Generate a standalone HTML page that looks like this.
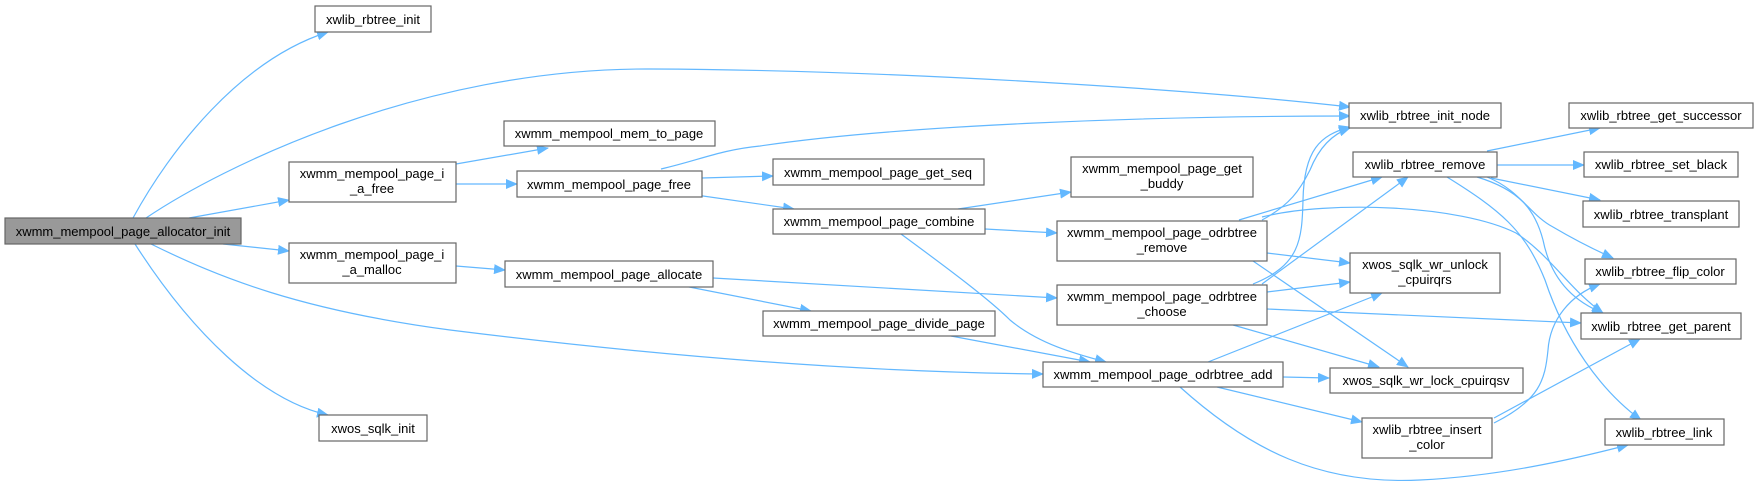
<!DOCTYPE html>
<html><head><meta charset="utf-8"><style>
html,body{margin:0;padding:0;background:#fff;}
svg{display:block}
text{font-family:"Liberation Sans",Arial,sans-serif;font-size:13px;fill:#000;text-anchor:middle}
.b{fill:#fff;stroke:#666;stroke-width:1.2}
.e{fill:none;stroke:#63b8ff;stroke-width:1.2}
</style></head><body>
<svg width="1759" height="487" viewBox="0 0 1759 487" xmlns="http://www.w3.org/2000/svg">
<defs><marker id="a" markerWidth="12" markerHeight="10" refX="11" refY="5" orient="auto" markerUnits="userSpaceOnUse"><path d="M0,0 L12,5 L0,10 z" fill="#63b8ff"/></marker></defs>
<g class="e" marker-end="url(#a)">
<path d="M133,218 C170,150 240,60 328,32"/>
<path d="M146,218 C220,168 420,68 650,69 C900,70 1200,90 1350,107"/>
<path d="M189,218 L289,200"/>
<path d="M223,244 L289,251"/>
<path d="M151,244 C220,278 300,310 450,330 C650,355 850,372 1043,374"/>
<path d="M135,244 C190,330 260,400 328,415"/>
<path d="M456,164 L548,148"/>
<path d="M456,184 L517,184"/>
<path d="M456,266 L505,270"/>
<path d="M661,169 C700,160 720,150 760,146 C900,125 1150,116 1350,116"/>
<path d="M702,178 L773,176"/>
<path d="M696,195 L794,209"/>
<path d="M958,209 L1071,192"/>
<path d="M985,229 L1057,233"/>
<path d="M901,234 C950,270 990,300 1010,320 C1040,345 1080,355 1106,362"/>
<path d="M713,278 L1057,298"/>
<path d="M679,285 L811,311"/>
<path d="M951,336 L1090,362"/>
<path d="M1262,220 C1290,205 1300,190 1310,170 C1320,145 1335,133 1350,128"/>
<path d="M1239,220 L1382,177"/>
<path d="M1262,217 C1330,200 1460,205 1516,233 C1550,255 1570,290 1603,313"/>
<path d="M1267,253 L1350,263"/>
<path d="M1253,261 L1408,367"/>
<path d="M1253,284 C1300,265 1302,240 1303,200 C1304,150 1320,135 1350,127"/>
<path d="M1262,284 L1408,177"/>
<path d="M1267,292 L1350,282"/>
<path d="M1267,309 L1581,323"/>
<path d="M1233,325 L1379,367"/>
<path d="M1208,362 L1382,293"/>
<path d="M1283,377 L1329,378"/>
<path d="M1217,387 L1362,422"/>
<path d="M1180,387 C1250,450 1320,485 1420,480 C1500,476 1570,460 1628,445"/>
<path d="M1487,151 L1600,128"/>
<path d="M1497,165 L1584,165"/>
<path d="M1491,178 L1600,200"/>
<path d="M1487,177 C1520,190 1530,215 1553,227 C1575,240 1595,250 1613,258"/>
<path d="M1477,177 C1520,190 1535,210 1543,240 C1550,275 1570,300 1603,313"/>
<path d="M1447,177 C1500,210 1525,230 1545,280 C1565,340 1600,390 1641,420"/>
<path d="M1494,423 C1540,400 1545,380 1548,350 C1550,320 1570,295 1600,284"/>
<path d="M1494,418 L1640,339"/>
</g>
<rect x="5" y="218" width="236" height="26" fill="#999" stroke="#666" stroke-width="1.2"/><text x="123" y="236">xwmm_mempool_page_allocator_init</text>
<rect class="b" x="315" y="6" width="116" height="26"/><text x="373" y="24">xwlib_rbtree_init</text>
<rect class="b" x="289" y="162" width="167" height="40"/><text x="372" y="178">xwmm_mempool_page_i</text><text x="372" y="193">_a_free</text>
<rect class="b" x="289" y="243" width="167" height="40"/><text x="372" y="259">xwmm_mempool_page_i</text><text x="372" y="274">_a_malloc</text>
<rect class="b" x="319" y="415" width="108" height="26"/><text x="373" y="433">xwos_sqlk_init</text>
<rect class="b" x="504" y="121" width="211" height="25"/><text x="609" y="138">xwmm_mempool_mem_to_page</text>
<rect class="b" x="517" y="171" width="185" height="26"/><text x="609" y="189">xwmm_mempool_page_free</text>
<rect class="b" x="505" y="261" width="208" height="26"/><text x="609" y="279">xwmm_mempool_page_allocate</text>
<rect class="b" x="773" y="159" width="211" height="26"/><text x="878" y="177">xwmm_mempool_page_get_seq</text>
<rect class="b" x="773" y="209" width="212" height="25"/><text x="879" y="226">xwmm_mempool_page_combine</text>
<rect class="b" x="1071" y="157" width="182" height="40"/><text x="1162" y="173">xwmm_mempool_page_get</text><text x="1162" y="188">_buddy</text>
<rect class="b" x="1057" y="221" width="210" height="40"/><text x="1162" y="237">xwmm_mempool_page_odrbtree</text><text x="1162" y="252">_remove</text>
<rect class="b" x="1057" y="285" width="210" height="40"/><text x="1162" y="301">xwmm_mempool_page_odrbtree</text><text x="1162" y="316">_choose</text>
<rect class="b" x="763" y="311" width="232" height="25"/><text x="879" y="328">xwmm_mempool_page_divide_page</text>
<rect class="b" x="1043" y="362" width="240" height="25"/><text x="1163" y="379">xwmm_mempool_page_odrbtree_add</text>
<rect class="b" x="1349" y="103" width="152" height="25"/><text x="1425" y="120">xwlib_rbtree_init_node</text>
<rect class="b" x="1353" y="152" width="144" height="25"/><text x="1425" y="169">xwlib_rbtree_remove</text>
<rect class="b" x="1350" y="253" width="150" height="40"/><text x="1425" y="269">xwos_sqlk_wr_unlock</text><text x="1425" y="284">_cpuirqrs</text>
<rect class="b" x="1330" y="368" width="193" height="25"/><text x="1426" y="385">xwos_sqlk_wr_lock_cpuirqsv</text>
<rect class="b" x="1362" y="418" width="130" height="40"/><text x="1427" y="434">xwlib_rbtree_insert</text><text x="1427" y="449">_color</text>
<rect class="b" x="1569" y="103" width="184" height="25"/><text x="1661" y="120">xwlib_rbtree_get_successor</text>
<rect class="b" x="1584" y="152" width="154" height="25"/><text x="1661" y="169">xwlib_rbtree_set_black</text>
<rect class="b" x="1583" y="201" width="156" height="26"/><text x="1661" y="219">xwlib_rbtree_transplant</text>
<rect class="b" x="1585" y="259" width="151" height="25"/><text x="1660" y="276">xwlib_rbtree_flip_color</text>
<rect class="b" x="1581" y="313" width="160" height="26"/><text x="1661" y="331">xwlib_rbtree_get_parent</text>
<rect class="b" x="1605" y="419" width="119" height="26"/><text x="1664" y="437">xwlib_rbtree_link</text>
</svg>
</body></html>
